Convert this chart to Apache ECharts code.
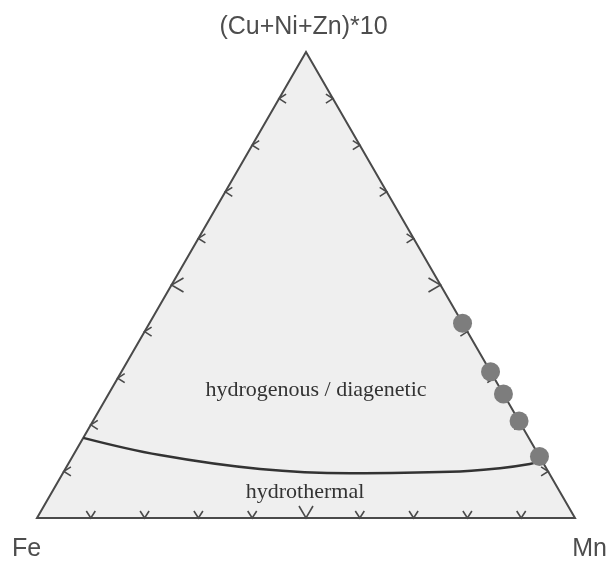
<!DOCTYPE html>
<html>
<head>
<meta charset="utf-8">
<script src="https://cdn.jsdelivr.net/npm/echarts@6/dist/echarts.min.js"></script>
<style>
html, body { margin: 0; padding: 0; background: #fff; }
#main { width: 607px; height: 561px; }
</style>
</head>
<body>
<div id="main"></div>
<script>
// ternary points as [Fe, Mn, (Cu+Ni+Zn)*10], percent
var corners = [[100, 0, 0], [0, 0, 100], [0, 100, 0]];
var tickValues = [10, 20, 30, 40, 50, 60, 70, 80, 90];
var samples = [[0, 58.2, 41.8], [0, 68.6, 31.4], [0, 73.4, 26.6], [0, 79.2, 20.8], [0, 86.8, 13.2]];
var boundary = [[82.8, 0, 17.2], [70.4, 16.1, 13.5], [53.3, 36.2, 10.5], [37.0, 53.4, 9.6],
    [18.3, 71.8, 9.9], [8.6, 80.7, 10.7], [2.6, 85.8, 11.6], [0.4, 87.4, 12.2]];

var H = Math.sqrt(3) / 2;
function toXY(p) {
    var s = p[0] + p[1] + p[2];
    var top = p[2] / s, mn = p[1] / s;
    return [mn + top / 2, top * H];
}

var tickData = [];
tickValues.forEach(function (v) {
    tickData.push([v, 0]); // bottom (Fe-Mn)
    tickData.push([v, 1]); // left (Fe-top)
    tickData.push([v, 2]); // right (Mn-top)
});

function renderTick(params, api) {
    var v = api.value(0), edge = api.value(1);
    var pt;
    if (edge === 0) pt = toXY([100 - v, v, 0]);
    else if (edge === 1) pt = toXY([100 - v, 0, v]);
    else pt = toXY([0, 100 - v, v]);
    var p = api.coord(pt);
    var big = v === 50;
    var s = big ? 7 : 4.5, d = big ? 12 : 7;
    var pts;
    if (edge === 0) pts = [[p[0] - s, p[1] - d], p, [p[0] + s, p[1] - d]];
    else if (edge === 1) pts = [[p[0] + d, p[1] - s], p, [p[0] + d, p[1] + s]];
    else pts = [[p[0] - d, p[1] - s], p, [p[0] - d, p[1] + s]];
    return {
        type: 'polyline',
        shape: { points: pts },
        style: { stroke: '#4a4a4a', lineWidth: 1.6, fill: null }
    };
}

function renderTriangle(params, api) {
    var pts = corners.map(function (c) { return api.coord(toXY(c)); });
    return {
        type: 'polygon',
        shape: { points: pts },
        style: { fill: '#efefef', stroke: '#4a4a4a', lineWidth: 2 }
    };
}

var myChart = echarts.init(document.getElementById('main'));
myChart.setOption({
    backgroundColor: '#ffffff',
    animation: false,
    grid: { left: 37, top: 52, width: 538, height: 466 },
    xAxis: { type: 'value', min: 0, max: 1, show: false },
    yAxis: { type: 'value', min: 0, max: H, show: false },
    graphic: [
        { type: 'text', left: 'center', top: 15, z: 100, style: { text: '(Cu+Ni+Zn)*10', font: '25px "Liberation Sans", Arial, sans-serif', fill: '#4d4d4d' } },
        { type: 'text', left: 12, top: 537, z: 100, style: { text: 'Fe', font: '25px "Liberation Sans", Arial, sans-serif', fill: '#4d4d4d' } },
        { type: 'text', right: 0, top: 537, z: 100, style: { text: 'Mn', font: '25px "Liberation Sans", Arial, sans-serif', fill: '#4d4d4d' } },
        { type: 'text', x: 316, y: 390, z: 100, style: { text: 'hydrogenous / diagenetic', font: '22px "Liberation Serif", "Times New Roman", serif', fill: '#333333', align: 'center', verticalAlign: 'middle' } },
        { type: 'text', x: 305, y: 492, z: 100, style: { text: 'hydrothermal', font: '22px "Liberation Serif", "Times New Roman", serif', fill: '#333333', align: 'center', verticalAlign: 'middle' } }
    ],
    series: [
        {
            type: 'custom',
            renderItem: renderTriangle,
            data: [[0, 0]],
            silent: true,
            z: 1
        },
        {
            type: 'custom',
            renderItem: renderTick,
            data: tickData,
            silent: true,
            z: 2
        },
        {
            type: 'line',
            data: boundary.map(toXY),
            smooth: 0.4,
            showSymbol: false,
            clip: false,
            lineStyle: { color: '#333333', width: 2.5 },
            z: 3
        },
        {
            type: 'scatter',
            data: samples.map(toXY),
            symbolSize: 19,
            clip: false,
            itemStyle: { color: '#7d7d7d', opacity: 1 },
            z: 4
        }
    ]
});
</script>
</body>
</html>
